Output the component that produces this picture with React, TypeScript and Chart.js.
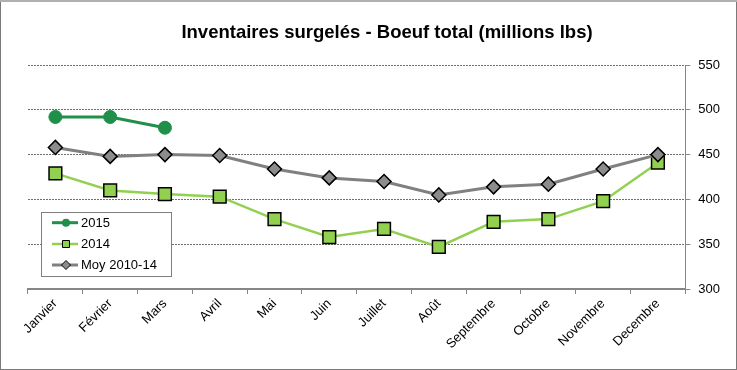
import React, { useEffect, useRef } from "react";
import { Chart, registerables } from "chart.js";

Chart.register(...registerables);

const TITLE = "Inventaires surgelés - Boeuf total (millions lbs)";
const MONTHS = [
  "Janvier", "Février", "Mars", "Avril", "Mai", "Juin",
  "Juillet", "Août", "Septembre", "Octobre", "Novembre", "Decembre",
];
const SERIES_2015 = [492, 492, 480];
const SERIES_2014 = [429, 410, 406, 403, 378, 358, 367, 347, 375, 378, 398, 441];
const SERIES_MOY = [458, 448, 450, 449, 434, 424, 420, 405, 414, 417, 434, 450];
const LABELS = ["2015", "2014", "Moy 2010-14"];
const Y_MIN = 300;
const Y_MAX = 550;
const Y_STEP = 50;

const GREEN_DARK = "#1f8f4a";
const GREEN_LIGHT = "#92d050";
const GRAY = "#808080";
const FONT = "'Liberation Sans', Arial, sans-serif";

const frameAndLegend = {
  id: "frameAndLegend",
  afterDraw(chart: any) {
    const ctx = chart.ctx as CanvasRenderingContext2D;
    const ca = chart.chartArea;
    ctx.save();
    // title
    ctx.fillStyle = "#000";
    ctx.font = `bold 18.5px ${FONT}`;
    ctx.textAlign = "center";
    ctx.textBaseline = "middle";
    ctx.fillText(TITLE, 387, 33);
    // legend box
    const bx = ca.left + 13;
    const by = ca.top + 147;
    const bw = 130;
    const bh = 64;
    ctx.fillStyle = "#ffffff";
    ctx.fillRect(bx, by, bw, bh);
    ctx.strokeStyle = "#7f7f7f";
    ctx.lineWidth = 1;
    ctx.strokeRect(Math.round(bx) + 0.5, Math.round(by) + 0.5, bw, bh);
    const order = [0, 1, 2];
    const rowsY = [by + 10.7, by + 32, by + 53];
    order.forEach((di, i) => {
      const ds = chart.data.datasets[di];
      const y = rowsY[i];
      const x1 = bx + 11;
      const x2 = bx + 37;
      const mx = bx + 25;
      ctx.beginPath();
      ctx.strokeStyle = ds.borderColor;
      ctx.lineWidth = ds.borderWidth;
      ctx.moveTo(x1, y);
      ctx.lineTo(x2, y);
      ctx.stroke();
      ctx.fillStyle = ds.pointBackgroundColor;
      ctx.strokeStyle = ds.pointBorderColor;
      ctx.lineWidth = 1;
      ctx.beginPath();
      if (ds.pointStyle === "circle") {
        ctx.arc(mx, y, 4, 0, Math.PI * 2);
        ctx.fill();
      } else if (ds.pointStyle === "rect") {
        ctx.rect(mx - 3.5, y - 3.5, 7, 7);
        ctx.fill();
        ctx.stroke();
      } else {
        ctx.moveTo(mx - 4.5, y);
        ctx.lineTo(mx, y - 4.5);
        ctx.lineTo(mx + 4.5, y);
        ctx.lineTo(mx, y + 4.5);
        ctx.closePath();
        ctx.fill();
        ctx.stroke();
      }
      ctx.fillStyle = "#000";
      ctx.font = `13px ${FONT}`;
      ctx.textBaseline = "middle";
      ctx.textAlign = "left";
      ctx.fillText(ds.label, bx + 40, y + 0.5);
    });
    // outer frame
    ctx.strokeStyle = "#7a7a7a";
    ctx.lineWidth = 1;
    ctx.strokeRect(0.5, 0.5, chart.width - 1, chart.height - 1);
    ctx.strokeStyle = "#b0b0b0";
    ctx.lineWidth = 2;
    ctx.beginPath();
    ctx.moveTo(0, 1);
    ctx.lineTo(chart.width, 1);
    ctx.stroke();
    ctx.restore();
  },
};

export default function App() {
  const ref = useRef<HTMLCanvasElement | null>(null);
  useEffect(() => {
    document.body.style.margin = "0";
    const canvas = ref.current;
    if (!canvas) return;
    const chart = new Chart(canvas, {
      type: "line",
      data: {
        labels: MONTHS,
        datasets: [
          {
            label: LABELS[0],
            data: SERIES_2015,
            borderColor: GREEN_DARK,
            backgroundColor: GREEN_DARK,
            pointBackgroundColor: GREEN_DARK,
            pointBorderColor: GREEN_DARK,
            pointStyle: "circle",
            pointRadius: 6.5,
            pointBorderWidth: 1,
            borderWidth: 3,
            tension: 0,
            order: 0,
          },
          {
            label: LABELS[1],
            data: SERIES_2014,
            borderColor: GREEN_LIGHT,
            backgroundColor: GREEN_LIGHT,
            pointBackgroundColor: GREEN_LIGHT,
            pointBorderColor: "#000000",
            pointStyle: "rect",
            pointRadius: 9,
            pointBorderWidth: 1.5,
            borderWidth: 2.5,
            tension: 0,
            order: 2,
          },
          {
            label: LABELS[2],
            data: SERIES_MOY,
            borderColor: GRAY,
            backgroundColor: GRAY,
            pointBackgroundColor: "#8c8c8c",
            pointBorderColor: "#000000",
            pointStyle: "rectRot",
            pointRadius: 7,
            pointBorderWidth: 1.5,
            borderWidth: 3,
            tension: 0,
            order: 1,
          },
        ],
      },
      options: {
        responsive: false,
        animation: false,
        layout: { padding: { left: 28, right: 9, top: 65, bottom: 16 } },
        plugins: {
          legend: { display: false },
          tooltip: { enabled: false },
          title: { display: false },
        },
        scales: {
          x: {
            type: "category",
            offset: true,
            grid: {
              display: true,
              offset: true,
              drawOnChartArea: false,
              drawTicks: true,
              tickLength: 5,
              tickColor: "#868686",
              tickWidth: 1,
            },
            border: { display: true, color: "#868686", width: 2 },
            ticks: {
              autoSkip: false,
              maxRotation: 45,
              minRotation: 45,
              color: "#000",
              font: { family: FONT, size: 13 },
              padding: 2,
            },
          },
          y: {
            position: "right",
            min: Y_MIN,
            max: Y_MAX,
            grid: {
              color: (c: any) => (c.tick && c.tick.value === Y_MIN ? "rgba(0,0,0,0)" : "#6f6f6f"),
              lineWidth: 1,
              drawTicks: true,
              tickLength: 5,
              tickColor: "#868686",
            },
            border: { display: true, color: "#868686", width: 1, dash: [2, 1] },
            ticks: {
              stepSize: Y_STEP,
              color: "#000",
              font: { family: FONT, size: 13 },
              padding: 8,
            },
          },
        },
      },
      plugins: [frameAndLegend],
    });
    return () => chart.destroy();
  }, []);
  return (
    <div style={{ width: 737, height: 370 }}>
      <canvas ref={ref} width={737} height={370} />
    </div>
  );
}
